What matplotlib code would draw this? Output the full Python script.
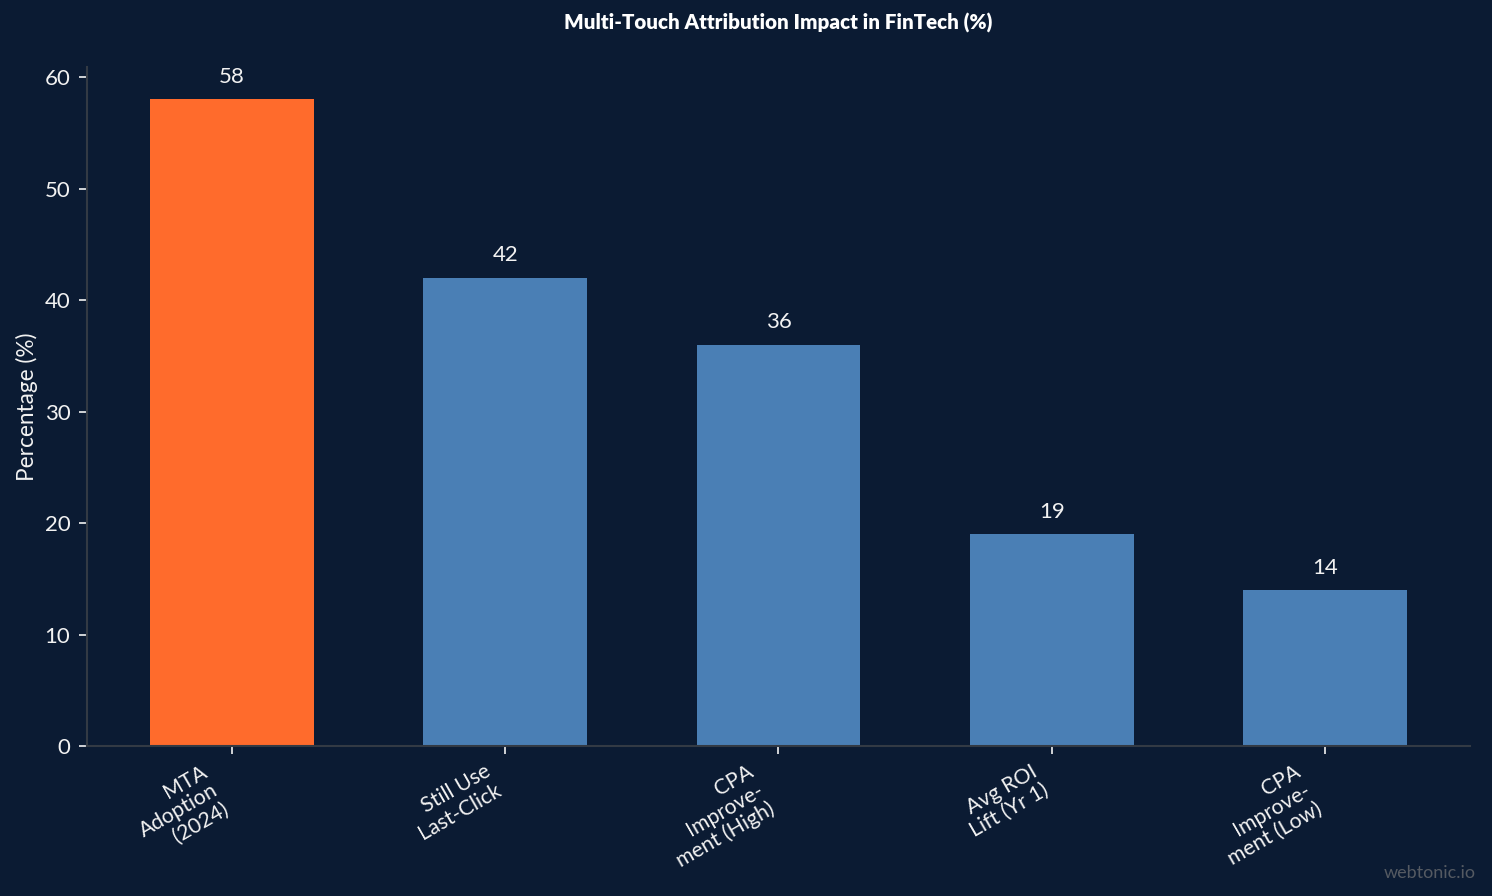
import matplotlib
matplotlib.use("Agg")
import matplotlib.pyplot as plt

categories = ["MTA\nAdoption\n(2024)", "Still Use\nLast-Click", "CPA\nImprove-\nment (High)",
              "Avg ROI\nLift (Yr 1)", "CPA\nImprove-\nment (Low)"]
values = [58, 42, 36, 19, 14]
bar_colors = ["#FF6B2C", "#4A7FB5", "#4A7FB5", "#4A7FB5", "#4A7FB5"]
y_ticks = [0, 10, 20, 30, 40, 50, 60]

BG = "#0B1B33"
TXT = "#F2F2F2"
plt.rcParams['font.family'] = ['Lato', 'DejaVu Sans']

fig = plt.figure(figsize=(14.92, 8.96), dpi=100, facecolor=BG)
ax = fig.add_axes([87/1492, 1 - 746/896, (1470-87)/1492, (746-67)/896])
ax.set_facecolor(BG)

x = list(range(len(values)))
bars = ax.bar(x, values, width=0.6, color=bar_colors, zorder=2)
for xi, v in zip(x, values):
    ax.text(xi, v + 1.1, f"{v}", ha='center', va='bottom', color=TXT, fontsize=16)

ax.set_ylim(0, 60.9)
ax.set_xlim(-0.53, 4.53)
ax.set_yticks(y_ticks)
ax.set_xticks(x)
ax.set_xticklabels(categories, rotation=30, ha='right', multialignment='right',
                   fontsize=15.3, color=TXT, linespacing=1.1)
ax.tick_params(axis='y', colors=TXT, labelsize=16, length=6, width=1.2, pad=6)
ax.tick_params(axis='x', colors=TXT, length=6, width=1.2, pad=5)
for s in ['top', 'right']:
    ax.spines[s].set_visible(False)
for s in ['left', 'bottom']:
    ax.spines[s].set_color('#333A44')
    ax.spines[s].set_linewidth(1.5)

ax.set_ylabel("Percentage (%)", color=TXT, fontsize=16.3, labelpad=5)
fig.text(778/1492, 1 - 23/896, "Multi-Touch Attribution Impact in FinTech (%)",
         ha='center', va='center', color='white', fontsize=14.8, fontweight='heavy')
fig.text(1476/1492, 1 - 873/896, "webtonic.io", ha='right', va='center',
         color='#555A62', fontsize=13)

fig.savefig("out.png", dpi=100, facecolor=BG)
